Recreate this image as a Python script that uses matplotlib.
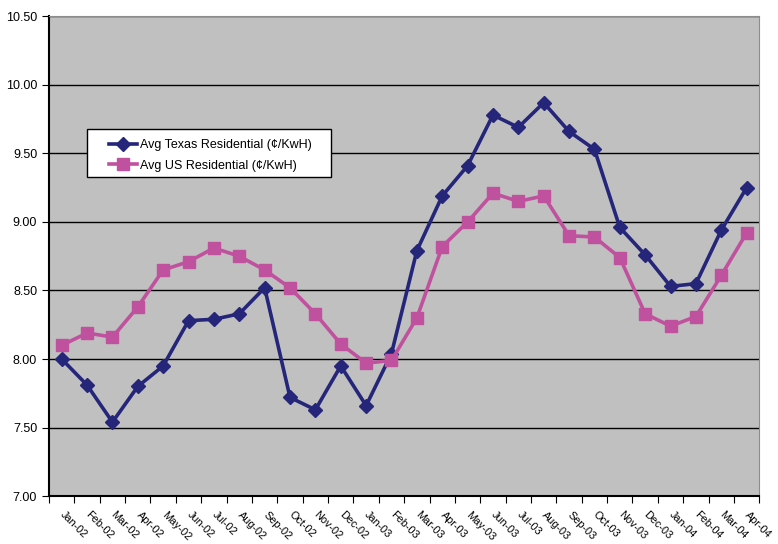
import matplotlib.pyplot as plt
from matplotlib.patches import Rectangle
from matplotlib.ticker import FixedLocator, NullFormatter

plt.rcParams['font.family'] = ['Liberation Sans', 'DejaVu Sans']

months = ["Jan-02", "Feb-02", "Mar-02", "Apr-02", "May-02", "Jun-02", "Jul-02",
          "Aug-02", "Sep-02", "Oct-02", "Nov-02", "Dec-02", "Jan-03", "Feb-03",
          "Mar-03", "Apr-03", "May-03", "Jun-03", "Jul-03", "Aug-03", "Sep-03",
          "Oct-03", "Nov-03", "Dec-03", "Jan-04", "Feb-04", "Mar-04", "Apr-04"]
texas = [8.00, 7.81, 7.54, 7.80, 7.95, 8.28, 8.29, 8.33, 8.52, 7.72, 7.63, 7.95,
         7.66, 8.04, 8.79, 9.19, 9.41, 9.78, 9.69, 9.87, 9.66, 9.53, 8.96, 8.76,
         8.53, 8.55, 8.94, 9.25]
us = [8.10, 8.19, 8.16, 8.38, 8.65, 8.71, 8.81, 8.75, 8.65, 8.52, 8.33, 8.11,
      7.97, 7.99, 8.30, 8.82, 9.00, 9.21, 9.15, 9.19, 8.90, 8.89, 8.74, 8.33,
      8.24, 8.31, 8.61, 8.92]
yticks = [7.00, 7.50, 8.00, 8.50, 9.00, 9.50, 10.00, 10.50]

fig = plt.figure(figsize=(7.78, 5.44), dpi=100)
ax = fig.add_axes([0.063, 0.088, 0.913, 0.882])
ax.set_facecolor('#c0c0c0')

x = list(range(len(months)))
ax.plot(x, texas, color='#25267a', lw=2.6, marker='D', ms=7,
        label='Avg Texas Residential (\u00a2/KwH)', zorder=3)
ax.plot(x, us, color='#c0519e', lw=2.6, marker='s', ms=8,
        label='Avg US Residential (\u00a2/KwH)', zorder=3)

ax.set_xlim(-0.5, len(months) - 0.5)
ax.set_ylim(7.0, 10.5)
ax.set_yticks(yticks)
ax.set_yticklabels(['%.2f' % v for v in yticks], fontsize=9)
ax.yaxis.grid(True, color='black', lw=1)
ax.set_axisbelow(True)

# category ticks between months, labels under the month centres
ax.xaxis.set_major_locator(FixedLocator([i - 0.5 for i in range(len(months) + 1)]))
ax.xaxis.set_major_formatter(NullFormatter())
ax.tick_params(axis='x', which='major', direction='out', length=5, color='black')
ax.tick_params(axis='y', direction='out', length=5, color='black')
for i, m in enumerate(months):
    ax.text(i + 0.15, 6.90, m, rotation=-45, rotation_mode='anchor',
            ha='left', va='top', fontsize=7.8)

for s in ['left', 'bottom']:
    ax.spines[s].set_color('black')
    ax.spines[s].set_linewidth(1.5)
for s in ['top', 'right']:
    ax.spines[s].set_color('#8c8c8c')

# legend box drawn by hand, entries placed inside it
ax.add_patch(Rectangle((0.0535, 0.665), 0.3435, 0.100, transform=ax.transAxes,
                       facecolor='white', edgecolor='black', lw=1, zorder=4))
leg = ax.legend(loc='upper left', bbox_to_anchor=(0.0845, 0.744), fontsize=9,
                frameon=False, handlelength=2.2, handletextpad=0.25,
                borderpad=0, borderaxespad=0, labelspacing=0.68)
leg.set_zorder(5)

fig.savefig('out.png', dpi=100)
